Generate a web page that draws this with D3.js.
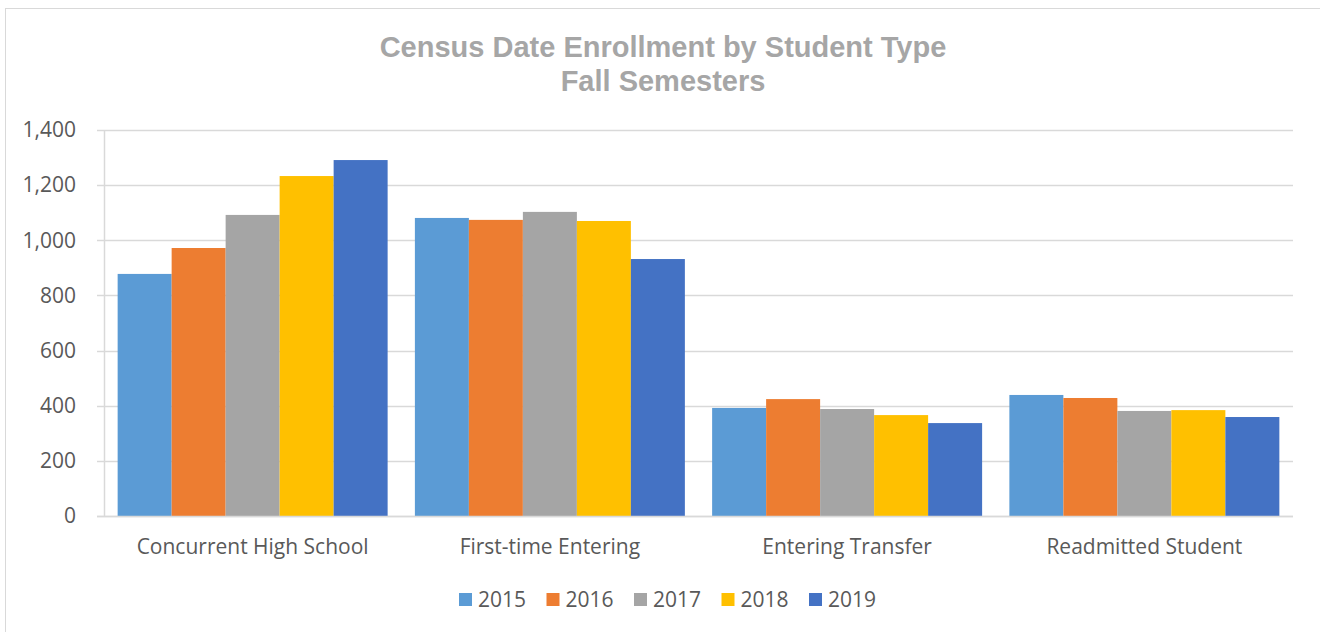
<!DOCTYPE html>
<html>
<head>
<meta charset="utf-8">
<script src="https://cdn.jsdelivr.net/npm/d3@7"></script>
<style>
  body { margin: 0; background: #fff; }
  svg { display: block; }
  .tick-label, .cat-label, .legend-label { font-family: "Open Sans", Lato, sans-serif; fill: #595959; }
  .title { font-family: "Liberation Sans", Arial, sans-serif; font-weight: bold; fill: #a6a6a6; }
</style>
</head>
<body>
<svg id="chart"></svg>
<script>
const categories = ["Concurrent High School", "First-time Entering", "Entering Transfer", "Readmitted Student"];
const years = ["2015", "2016", "2017", "2018", "2019"];
const values2015 = [878, 1081, 392, 439];
const values2016 = [972, 1074, 424, 428];
const values2017 = [1092, 1103, 388, 381];
const values2018 = [1233, 1070, 366, 384];
const values2019 = [1291, 932, 337, 359];
const yTicks = [0, 200, 400, 600, 800, 1000, 1200, 1400];
const colors = ["#5b9bd5", "#ed7d31", "#a5a5a5", "#ffc000", "#4472c4"];

const seriesValues = [values2015, values2016, values2017, values2018, values2019];

const chartSize = {width: 1320, height: 632};
const plot = {left: 104, right: 1293, top: 130, bottom: 516};
const labelSize = 21;

const svg = d3.select("#chart")
  .attr("width", chartSize.width)
  .attr("height", chartSize.height);

// outer chart frame
svg.append("rect")
  .attr("x", 5.5).attr("y", 8.5)
  .attr("width", 1330).attr("height", 640)
  .attr("fill", "none")
  .attr("stroke", "#d9d9d9");

const y = d3.scaleLinear().domain([0, 1400]).range([plot.bottom, plot.top]);
const x0 = d3.scaleBand().domain(categories).range([plot.left, plot.right]).paddingInner(0.0917).paddingOuter(0.0459);
const x1 = d3.scaleBand().domain(years).range([0, x0.bandwidth()]);

// gridlines
svg.append("g")
  .selectAll("line")
  .data(yTicks)
  .join("line")
  .attr("x1", plot.left - 7).attr("x2", plot.right)
  .attr("y1", d => Math.round(y(d)) + 0.5).attr("y2", d => Math.round(y(d)) + 0.5)
  .attr("stroke", "#d9d9d9")
  .attr("stroke-width", 1.5);

svg.append("line")
  .attr("x1", plot.left + 0.5).attr("x2", plot.left + 0.5)
  .attr("y1", plot.top).attr("y2", plot.bottom)
  .attr("stroke", "#d9d9d9")
  .attr("stroke-width", 1.5);

// y tick labels
svg.append("g")
  .selectAll("text")
  .data(yTicks)
  .join("text")
  .attr("class", "tick-label")
  .attr("x", 76)
  .attr("y", d => y(d))
  .attr("dy", "0.35em")
  .attr("text-anchor", "end")
  .attr("font-size", labelSize)
  .text(d => d3.format(",")(d));

// bars
const groups = svg.append("g")
  .selectAll("g")
  .data(categories)
  .join("g")
  .attr("transform", d => `translate(${x0(d)},0)`);

groups.selectAll("rect")
  .data((c, i) => years.map((yr, j) => ({year: yr, value: seriesValues[j][i], color: colors[j]})))
  .join("rect")
  .attr("x", d => x1(d.year))
  .attr("width", x1.bandwidth())
  .attr("y", d => y(d.value))
  .attr("height", d => y(0) - y(d.value))
  .attr("fill", d => d.color);

// bottom axis line over bars
svg.append("line")
  .attr("x1", plot.left - 7).attr("x2", plot.right)
  .attr("y1", plot.bottom + 0.5).attr("y2", plot.bottom + 0.5)
  .attr("stroke", "#d9d9d9")
  .attr("stroke-width", 1.5);

// category labels
svg.append("g")
  .selectAll("text")
  .data(categories)
  .join("text")
  .attr("class", "cat-label")
  .attr("x", d => x0(d) + x0.bandwidth() / 2)
  .attr("y", 547)
  .attr("dy", "0.35em")
  .attr("text-anchor", "middle")
  .attr("font-size", labelSize)
  .text(d => d);

// title
const title = svg.append("text")
  .attr("class", "title")
  .attr("x", 663)
  .attr("text-anchor", "middle")
  .attr("font-size", 29);
title.append("tspan").attr("x", 663).attr("y", 57).text("Census Date Enrollment by Student Type");
title.append("tspan").attr("x", 663).attr("y", 91).text("Fall Semesters");

// legend
const legend = svg.append("g")
  .selectAll("g")
  .data(years)
  .join("g")
  .attr("transform", (d, i) => `translate(${459 + i * 87.5},600)`);

legend.append("rect")
  .attr("x", 0).attr("y", -7)
  .attr("width", 13).attr("height", 13)
  .attr("fill", (d, i) => colors[i]);

legend.append("text")
  .attr("class", "legend-label")
  .attr("x", 19)
  .attr("y", 0)
  .attr("dy", "0.35em")
  .attr("font-size", labelSize)
  .text(d => d);
</script>
</body>
</html>
